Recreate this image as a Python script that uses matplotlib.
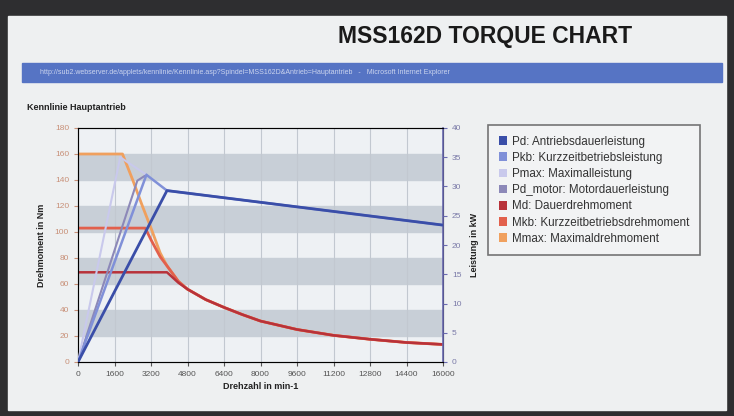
import matplotlib
matplotlib.use("Agg")
import matplotlib.pyplot as plt
from matplotlib.patches import Rectangle, Patch

plt.rcParams['font.family'] = ['Liberation Sans', 'DejaVu Sans']

# ------------------------------- DATA ----------------------------------------#
# torque curves (Nm) over speed (min-1)
md_rpm = [0, 3900, 4400, 4800, 5600, 6400, 7200, 8000, 9600, 11200, 12800, 14400, 16000]
md = [69, 69, 61, 56, 48, 42, 36.5, 31.5, 25, 20.5, 17.5, 15, 13.5]
mkb_rpm = [0, 2950, 3200, 3600, 3900, 4400, 4800, 5600, 6400, 7200, 8000, 9600, 11200, 12800, 14400, 16000]
mkb = [103, 103, 94, 81, 74, 62, 56, 48, 42, 36.5, 31.5, 25, 20.5, 17.5, 15, 13.5]
mmax_rpm = [0, 1950, 2400, 2800, 3200, 3600, 3900, 4400, 4800, 5600, 6400, 7200, 8000, 9600, 11200, 12800, 14400, 16000]
mmax = [160, 160, 140, 121, 103, 84, 74, 62, 56, 48, 42, 36.5, 31.5, 25, 20.5, 17.5, 15, 13.5]

# power curves (kW)
pd_rpm = [0, 3900, 16000]
pd = [0, 29.3, 23.4]
pkb_rpm = [0, 3000, 3900, 16000]
pkb = [0, 32.0, 29.3, 23.4]
pmax_rpm = [0, 1850, 3000]
pmax = [0, 35.0, 32.0]
pdm_rpm = [0, 2600, 3000]
pdm = [0, 31.0, 32.0]

x_ticks = [0, 1600, 3200, 4800, 6400, 8000, 9600, 11200, 12800, 14400, 16000]
torque_ticks = list(range(0, 181, 20))
power_ticks = list(range(0, 41, 5))
legend_labels = ["Pd: Antriebsdauerleistung", "Pkb: Kurzzeitbetriebsleistung",
                 "Pmax: Maximalleistung", "Pd_motor: Motordauerleistung",
                 "Md: Dauerdrehmoment", "Mkb: Kurzzeitbetriebsdrehmoment",
                 "Mmax: Maximaldrehmoment"]
colors = ["#3a4ea8", "#8090d8", "#c9c9ec", "#8c88b8", "#b8323a", "#e2604c", "#f0a05e"]

# ------------------------------- FIGURE --------------------------------------#
W, H = 734, 416
fig = plt.figure(figsize=(W / 100, H / 100), dpi=100)
fig.patch.set_facecolor("#2e2e30")


def px(x0, y0, x1, y1):
    return (x0 / W, 1 - y1 / H, (x1 - x0) / W, (y1 - y0) / H)


# screen / page
l, b, w, h = px(8, 16, 726, 410)
fig.add_artist(Rectangle((l, b), w, h, transform=fig.transFigure, color="#eef0f1", zorder=0))
l, b, w, h = px(22, 63, 722, 82)
fig.add_artist(Rectangle((l, b), w, h, transform=fig.transFigure, color="#5674c4", zorder=1))
fig.text(40 / W, 1 - 73 / H, "http://sub2.webserver.de/applets/kennlinie/Kennlinie.asp?Spindel=MSS162D&Antrieb=Hauptantrieb   -   Microsoft Internet Explorer",
         fontsize=5, color="#e8ecf8", va="center", alpha=0.8)
fig.text(485 / W, 1 - 37 / H, "MSS162D TORQUE CHART", fontsize=16.5, fontweight="bold",
         ha="center", va="center", color="#1a1a1a")
fig.text(27 / W, 1 - 107 / H, "Kennlinie Hauptantrieb", fontsize=6.5, fontweight="bold",
         va="center", color="#222222")

ax = fig.add_axes(px(78, 128, 443, 362))
ax.set_facecolor("#eef1f4")
for lo in (20, 60, 100, 140):
    ax.axhspan(lo, lo + 20, color="#c8cfd7", zorder=0)
for xt in x_ticks[1:-1]:
    ax.axvline(xt, color="#c2c8d0", lw=0.8, zorder=0.5)

ax.plot(mmax_rpm, mmax, color=colors[6], lw=2, zorder=3)
ax.plot(mkb_rpm, mkb, color=colors[5], lw=2, zorder=3)
ax.plot(md_rpm, md, color=colors[4], lw=1.8, zorder=3)
ax.set_xlim(0, 16000)
ax.set_ylim(0, 180)
ax.set_xticks(x_ticks)
ax.set_yticks(torque_ticks)
ax.tick_params(axis="x", labelsize=6, colors="#555555", length=3)
ax.tick_params(axis="y", labelsize=6, labelcolor="#c89078", color="#c89078", length=3)
ax.set_xlabel("Drehzahl in min-1", fontsize=6.5, fontweight="bold", color="#222222", labelpad=3)
ax.set_ylabel("Drehmoment in Nm", fontsize=6.5, fontweight="bold", color="#222222", labelpad=6)
for s in ("top", "left"):
    ax.spines[s].set_color("#666666")
ax.spines["bottom"].set_color("#555555")

ax2 = ax.twinx()
ax2.plot(pdm_rpm, pdm, color=colors[3], lw=1.5, zorder=3)
ax2.plot(pmax_rpm, pmax, color=colors[2], lw=1.5, zorder=3)
ax2.plot(pkb_rpm, pkb, color=colors[1], lw=1.8, zorder=3)
ax2.plot(pd_rpm, pd, color=colors[0], lw=2, zorder=4)
ax2.set_ylim(0, 40)
ax2.set_yticks(power_ticks)
ax2.tick_params(axis="y", labelsize=6, labelcolor="#7a7aa8", color="#6a6ab0", length=3)
ax2.spines["right"].set_color("#6a6ab0")
ax2.spines["right"].set_linewidth(1.2)
ax2.set_ylabel("Leistung in kW", fontsize=6.5, fontweight="bold", color="#222222", labelpad=6)

handles = [Patch(facecolor=c, edgecolor="none") for c in colors]
leg = fig.legend(handles, legend_labels, loc="upper left", bbox_to_anchor=(488 / W, 1 - 125 / H),
                 borderaxespad=0, fontsize=8.4, frameon=True, fancybox=False,
                 handlelength=0.75, handleheight=0.75, handletextpad=0.4,
                 labelspacing=0.36, borderpad=0.9, labelcolor="#333333")
leg.get_frame().set_edgecolor("#555555")
leg.get_frame().set_linewidth(1.2)
leg.get_frame().set_facecolor("#f4f5f6")

fig.savefig("out.png", dpi=100, facecolor=fig.get_facecolor())
